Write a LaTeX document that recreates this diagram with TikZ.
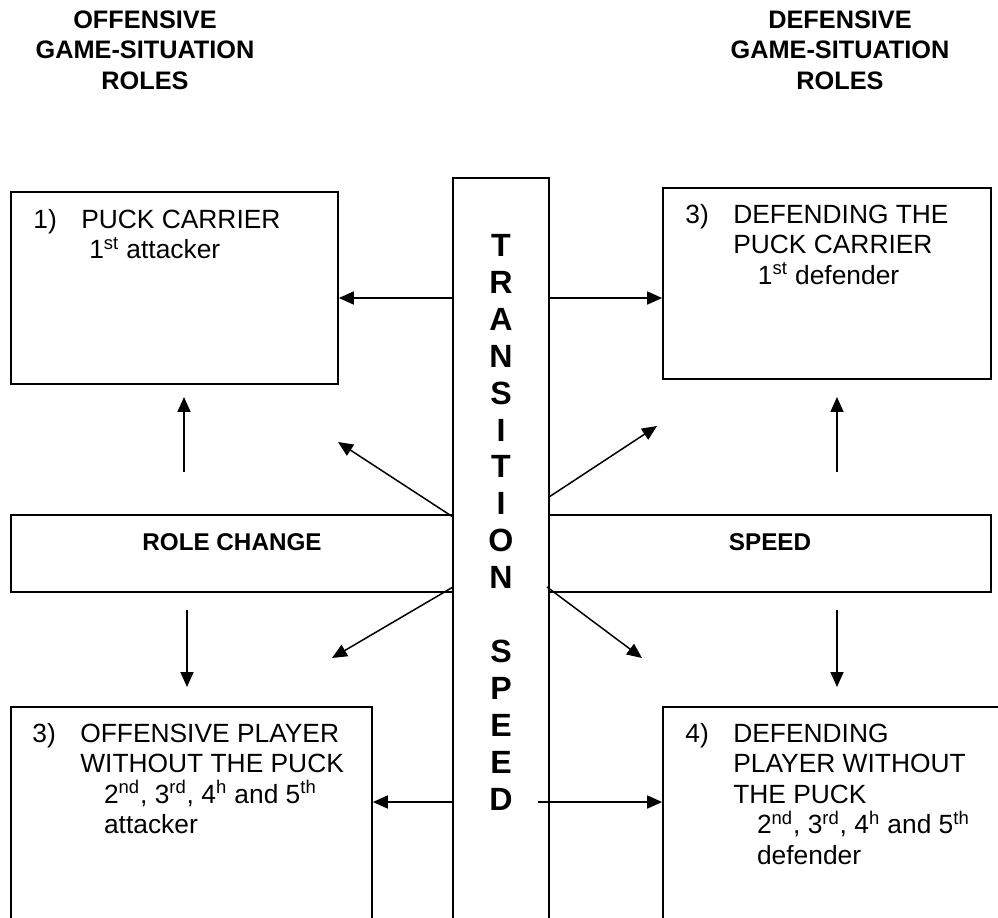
\documentclass[tikz,border=0pt]{standalone}
\usepackage{fontspec}
\setmainfont{Liberation Sans}
\usetikzlibrary{arrows.meta,fit}

\begin{document}
\begin{tikzpicture}[x=0.02cm, y=-0.02cm,
  box/.style={draw, line width=1pt, inner sep=0pt},
  arr/.style={line width=0.85pt, -{Triangle[length=8.5pt,width=7.4pt]}},
  hdr/.style={font=\fontsize{14.4}{17.3}\selectfont\bfseries, align=center, anchor=base, inner sep=0pt},
  txt/.style={font=\fontsize{15}{17.3}\selectfont, align=left, anchor=base west, inner sep=0pt},
  mid/.style={font=\fontsize{13.8}{16}\selectfont\bfseries, anchor=base, inner sep=0pt},
  letter/.style={font=\fontsize{18.3}{21}\selectfont\bfseries, anchor=base, inner sep=0pt}]
\useasboundingbox (0,0) rectangle (998,917);
\clip (0,0) rectangle (998,917);

% headings (anchored at the last line)
\node [hdr] (offhead) at (145,89) {OFFENSIVE\\GAME-SITUATION\\ROLES};
\node [hdr] (defhead) at (840,89) {DEFENSIVE\\GAME-SITUATION\\ROLES};

% boxes
\node [box, fit={(11,192) (338,384)}] (carrier) {};
\node [box, fit={(663,188) (991,379)}] (defpuck) {};
\node [box, fit={(11,515) (453,592)}] (rolechange) {};
\node [box, fit={(549,515) (991,592)}] (speed) {};
\node [box, fit={(11,707) (372,940)}] (offplayer) {};
\node [box, fit={(663,707) (1010,940)}] (defplayer) {};
\node [box, fit={(453,178) (549,940)}] (bar) {};

% box texts (anchored at the last line)
\node [txt] (n1) at (33,228) {1)};
\node [txt] (t1) at (81,258.5) {PUCK CARRIER\\\hspace*{4.5pt}1\textsuperscript{st} attacker};
\node [txt] (n2) at (685,223) {3)};
\node [txt] (t2) at (733,284) {DEFENDING THE\\PUCK CARRIER\\\hspace*{14pt}1\textsuperscript{st} defender};
\node [txt] (n3) at (32,742) {3)};
\node [txt] (t3) at (80,833.5) {OFFENSIVE PLAYER\\WITHOUT THE PUCK\\\hspace*{13.5pt}2\textsuperscript{nd}, 3\textsuperscript{rd}, 4\textsuperscript{h} and 5\textsuperscript{th}\\\hspace*{13.5pt}attacker};
\node [txt] (n4) at (685,742) {4)};
\node [txt] (t4) at (733,864) {DEFENDING\\PLAYER WITHOUT\\THE PUCK\\\hspace*{13.5pt}2\textsuperscript{nd}, 3\textsuperscript{rd}, 4\textsuperscript{h} and 5\textsuperscript{th}\\\hspace*{13.5pt}defender};

\node [mid] (rc) at (232,550.5) {ROLE CHANGE};
\node [mid] (sp) at (770,550.5) {SPEED};

% letters in the bar
\foreach \ch [count=\k from 0] in {T,R,A,N,S,I,T,I,O,N,{},S,P,E,E,D}
  \node [letter] (ch\k) at (501,256.5+36.9*\k) {\ch};

% arrow ends
\coordinate (A) at (453,298);
\coordinate (B) at (549,298);
\coordinate (C) at (453,802);
\coordinate (D) at (538,802);
\coordinate (E) at (453,517);
\coordinate (F) at (338,442);
\coordinate (G) at (549,497);
\coordinate (H) at (657,426);
\coordinate (I) at (453,587);
\coordinate (J) at (332,658);
\coordinate (K) at (547,587);
\coordinate (L) at (642,658);
\coordinate (M) at (184,472);
\coordinate (N) at (184,397);
\coordinate (O) at (837,472);
\coordinate (P) at (837,397);
\coordinate (Q) at (187,610);
\coordinate (R) at (187,687);
\coordinate (S) at (837,610);
\coordinate (T) at (837,687);

\draw [arr] (A) -- (A -| carrier.east);
\draw [arr] (B) -- (B -| defpuck.west);
\draw [arr] (C) -- (C -| offplayer.east);
\draw [arr] (D) -- (D -| defplayer.west);
\draw [arr] (E) -- (F);
\draw [arr] (G) -- (H);
\draw [arr] (I) -- (J);
\draw [arr] (K) -- (L);
\draw [arr] (M) -- (N);
\draw [arr] (O) -- (P);
\draw [arr] (Q) -- (R);
\draw [arr] (S) -- (T);
\end{tikzpicture}
\end{document}
